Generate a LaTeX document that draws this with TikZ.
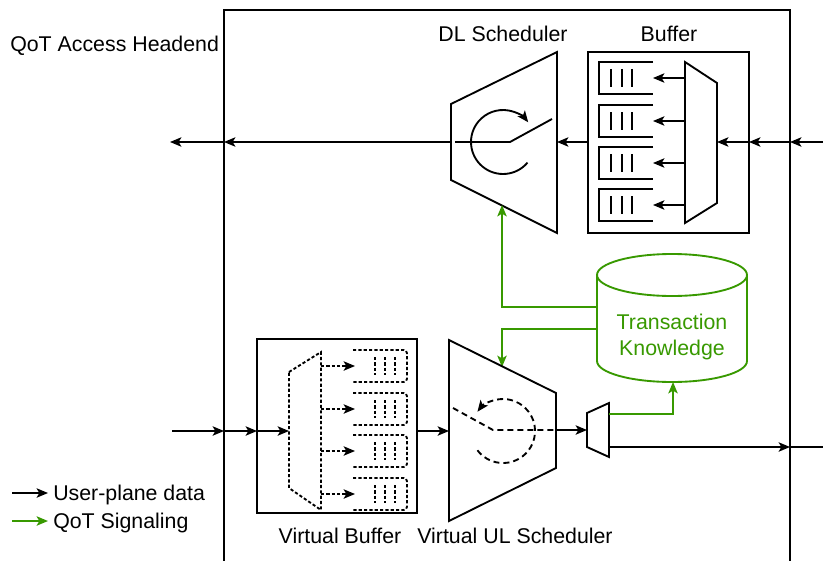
\documentclass[tikz,border=0pt]{standalone}
\usepackage{fontspec}
\setmainfont{Liberation Sans}
\usetikzlibrary{arrows.meta}
\definecolor{sig}{RGB}{56,153,0}
\begin{document}
\begin{tikzpicture}[x=0.75pt,y=-0.75pt,
  every node/.style={font=\fontsize{16}{19.5}\selectfont, inner sep=0pt},
  ln/.style={line width=1.4pt, line join=miter},
  tip/.style={-{Stealth[length=8.5pt,width=7pt,inset=2pt]}},
  arr/.style={ln, tip},
  sarr/.style={arr, draw=sig},
  dots/.style={dash pattern=on 2.4pt off 1.6pt},
  dsh/.style={dash pattern=on 4.5pt off 3pt},
  lbl/.style={anchor=base},
  lblw/.style={anchor=base west}
]
\useasboundingbox (0,0) rectangle (823,560);
\fill[white] (0,0) rectangle (823,560);
\begin{scope}
\clip (0,0) rectangle (823,560);

% ---------- main headend box ----------
\draw[ln] (224,580) -- (224,10) -- (790,10) -- (790,580);
\node[lblw] (head) at (10,52) {QoT Access Headend};

% ---------- coordinates ----------
\coordinate (dlIn) at (840,142);
\coordinate (mainR) at (790,142);
\coordinate (bufR) at (749,142);
\coordinate (muxR) at (717,142);
\coordinate (bufL) at (588,142);
\coordinate (dlR) at (557,142);
\coordinate (dlL) at (451,142);
\coordinate (mainL) at (224,142);
\coordinate (dlOut) at (170,142);

% ---------- DL buffer ----------
\draw[ln] (588,52) rectangle (749,233);
\node[lbl] (buflbl) at (669,41) {Buffer};
\draw[ln] (685,62) -- (717,83) -- (717,203) -- (685,223) -- cycle;
\foreach \yc [count=\i] in {78,121,163,205}{
  \coordinate (mq\i) at (685,\yc);
  \coordinate (q\i) at (653,\yc);
  \draw[ln] (653,\yc-16) -- (599,\yc-16) -- (599,\yc+16) -- (653,\yc+16);
  \foreach \bx in {611,622,632}{\draw[ln] (\bx,\yc-9) -- (\bx,\yc+9);}
  \draw[arr] (mq\i) -- (q\i);
}

% ---------- DL scheduler ----------
\draw[ln] (451,104) -- (557,52) -- (557,233) -- (451,180) -- cycle;
\node[lbl] (dllbl) at (503,41) {DL Scheduler};
\draw[ln] (455,142) -- (510,142) -- (552,119);
\draw[ln, tip] ([shift={(-40:24pt)}]503,142) arc[start angle=-40, end angle=-322, radius=24pt];

% DL data path
\draw[arr] (dlIn) -- (mainR);
\draw[arr] (mainR) -- (bufR);
\draw[arr] (bufR) -- (muxR);
\draw[arr] (bufL) -- (dlR);
\draw[arr] (dlL) -- (mainL);
\draw[arr] (mainL) -- (dlOut);

% ---------- Transaction Knowledge ----------
\draw[ln, sig] (672,275) ellipse [x radius=56.25pt, y radius=15.75pt];
\draw[ln, sig] (597,275) -- (597,361) arc[start angle=180, end angle=360, x radius=56.25pt, y radius=15.75pt] -- (747,275);
\node[lbl, text=sig] (tk1) at (672,329) {Transaction};
\node[lbl, text=sig] (tk2) at (672,355) {Knowledge};
\coordinate (cyl1) at (597,307);
\coordinate (cyl2) at (597,329);
\coordinate (cylB) at (673,382);
\coordinate (dlB) at (502,205);
\coordinate (ulT) at (502,367);
\draw[sarr] (cyl1) -- (502,307) -- (dlB);
\draw[sarr] (cyl2) -- (502,329) -- (ulT);

% ---------- Virtual buffer ----------
\draw[ln] (257,339) rectangle (417,513);
\node[lbl] (vblbl) at (340,543) {Virtual Buffer};
\draw[ln, dots] (289,372) -- (321,352) -- (321,510) -- (289,488) -- cycle;
\foreach \yc [count=\i] in {366,409,451,494}{
  \coordinate (vm\i) at (321,\yc);
  \coordinate (vq\i) at (355,\yc);
  \draw[ln, dots, rounded corners=2.5pt] (353,\yc-16) -- (407,\yc-16) -- (407,\yc+16) -- (353,\yc+16);
  \foreach \bx in {375,385,395}{\draw[ln, dots] (\bx,\yc-9) -- (\bx,\yc+9);}
  \draw[ln, dots, tip] (vm\i) -- (vq\i);
}
\coordinate (ulIn) at (172,431);
\coordinate (mainL2) at (224,431);
\coordinate (vbL) at (257,431);
\coordinate (vmL) at (289,431);
\coordinate (vbR) at (417,431);
\coordinate (ulL) at (449,431);
\draw[arr] (ulIn) -- (mainL2);
\draw[arr] (mainL2) -- (vbL);
\draw[arr] (vbL) -- (vmL);
\draw[arr] (vbR) -- (ulL);

% ---------- Virtual UL scheduler ----------
\draw[ln] (449,340) -- (556,393) -- (556,468) -- (449,521) -- cycle;
\node[lbl] (ullbl) at (515,543) {Virtual UL Scheduler};
\draw[ln, dsh] (453,408) -- (493,430) -- (556,430);
\draw[ln, dsh, tip] ([shift={(-143:24pt)}]503,431) arc[start angle=-143, end angle=143, radius=24pt];

% small mux
\draw[ln] (587,413) -- (609,403) -- (609,457) -- (587,447) -- cycle;
\coordinate (ulR) at (556,430);
\coordinate (smL) at (587,430);
\coordinate (smR1) at (609,414);
\coordinate (smR2) at (609,447);
\coordinate (mainR2) at (790,447);
\coordinate (ulOut) at (835,447);
\draw[arr] (ulR) -- (smL);
\draw[arr] (smR2) -- (mainR2);
\draw[arr] (mainR2) -- (ulOut);
\draw[sarr] (smR1) -- (673,414) -- (cylB);

% ---------- legend ----------
\coordinate (lg1a) at (12,493);
\coordinate (lg1b) at (48,493);
\coordinate (lg2a) at (12,521);
\coordinate (lg2b) at (48,521);
\draw[arr] (lg1a) -- (lg1b);
\draw[sarr] (lg2a) -- (lg2b);
\node[lblw] (lgt1) at (53,500) {User-plane data};
\node[lblw] (lgt2) at (53,528) {QoT Signaling};
\end{scope}
\end{tikzpicture}
\end{document}
